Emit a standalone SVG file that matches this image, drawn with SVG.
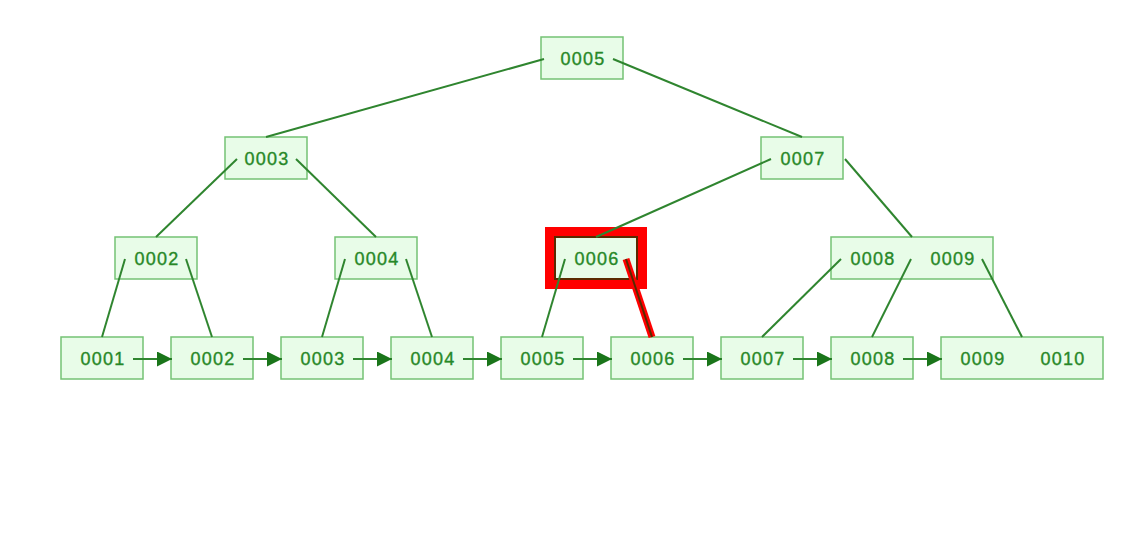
<svg xmlns="http://www.w3.org/2000/svg" width="1146" height="556" viewBox="0 0 1146 556">
<defs>
<style>
.box{fill:#e8fce8;stroke:#74c274;stroke-width:1.5}
.t{font-family:"Liberation Sans",Arial,sans-serif;font-size:18px;letter-spacing:1.2px;fill:#278827;stroke:#278827;stroke-width:0.35;text-anchor:middle;dominant-baseline:central}
.e{stroke:#2f852f;stroke-width:2;fill:none}
.a{stroke:#2f852f;stroke-width:2;fill:none;marker-end:url(#ah)}
</style>
<marker id="ah" viewBox="0 0 10 10" refX="10" refY="5" markerWidth="9" markerHeight="7.5" markerUnits="strokeWidth" orient="auto">
<path d="M0,0 L10,5 L0,10 z" fill="#1a751a"/>
</marker>
</defs>
<rect width="1146" height="556" fill="#fff"/>
<g id="n-root"><rect class="box" x="541" y="37" width="82" height="42"/><text class="t" x="583" y="59">0005</text></g>
<g id="n-0003"><rect class="box" x="225" y="137" width="82" height="42"/><text class="t" x="267" y="159">0003</text></g>
<g id="n-0007"><rect class="box" x="761" y="137" width="82" height="42"/><text class="t" x="803" y="159">0007</text></g>
<g id="n-0002"><rect class="box" x="115" y="237" width="82" height="42"/><text class="t" x="157" y="259">0002</text></g>
<g id="n-0004"><rect class="box" x="335" y="237" width="82" height="42"/><text class="t" x="377" y="259">0004</text></g>
<g id="n-0006"><rect x="545" y="227" width="102" height="62" fill="#ff0000"/><rect x="555" y="237" width="82" height="42" fill="#e8fce8" stroke="#5a2a00" stroke-width="2"/><text class="t" x="597" y="259">0006</text></g>
<g id="n-0008-0009"><rect class="box" x="831" y="237" width="162" height="42"/><text class="t" x="873" y="259">0008</text><text class="t" x="953" y="259">0009</text></g>
<g id="l-0001"><rect class="box" x="61" y="337" width="82" height="42"/><text class="t" x="103" y="359">0001</text></g>
<g id="l-0002"><rect class="box" x="171" y="337" width="82" height="42"/><text class="t" x="213" y="359">0002</text></g>
<g id="l-0003"><rect class="box" x="281" y="337" width="82" height="42"/><text class="t" x="323" y="359">0003</text></g>
<g id="l-0004"><rect class="box" x="391" y="337" width="82" height="42"/><text class="t" x="433" y="359">0004</text></g>
<g id="l-0005"><rect class="box" x="501" y="337" width="82" height="42"/><text class="t" x="543" y="359">0005</text></g>
<g id="l-0006"><rect class="box" x="611" y="337" width="82" height="42"/><text class="t" x="653" y="359">0006</text></g>
<g id="l-0007"><rect class="box" x="721" y="337" width="82" height="42"/><text class="t" x="763" y="359">0007</text></g>
<g id="l-0008"><rect class="box" x="831" y="337" width="82" height="42"/><text class="t" x="873" y="359">0008</text></g>
<g id="l-0009-0010"><rect class="box" x="941" y="337" width="162" height="42"/><text class="t" x="983" y="359">0009</text><text class="t" x="1063" y="359">0010</text></g>
<g id="connectors">
<line class="e" x1="544" y1="59" x2="266" y2="137"/>
<line class="e" x1="613" y1="59" x2="802" y2="137"/>
<line class="e" x1="237" y1="159" x2="156" y2="237"/>
<line class="e" x1="296" y1="159" x2="376" y2="237"/>
<line class="e" x1="771" y1="159" x2="596" y2="237"/>
<line class="e" x1="845" y1="159" x2="912" y2="237"/>
<line class="e" x1="125" y1="259" x2="102" y2="337"/>
<line class="e" x1="186" y1="259" x2="212" y2="337"/>
<line class="e" x1="345" y1="259" x2="322" y2="337"/>
<line class="e" x1="406" y1="259" x2="432" y2="337"/>
<line class="e" x1="565" y1="259" x2="542" y2="337"/>
<line x1="626" y1="259" x2="652" y2="337" stroke="#ff0000" stroke-width="7"/>
<line x1="626" y1="259" x2="652" y2="337" stroke="#5a2a00" stroke-width="2"/>
<line class="e" x1="841" y1="259" x2="762" y2="337"/>
<line class="e" x1="911" y1="259" x2="872" y2="337"/>
<line class="e" x1="982" y1="259" x2="1022" y2="337"/>
<line class="a" x1="133" y1="359" x2="172" y2="359"/>
<line class="a" x1="243" y1="359" x2="282" y2="359"/>
<line class="a" x1="353" y1="359" x2="392" y2="359"/>
<line class="a" x1="463" y1="359" x2="502" y2="359"/>
<line class="a" x1="573" y1="359" x2="612" y2="359"/>
<line class="a" x1="683" y1="359" x2="722" y2="359"/>
<line class="a" x1="793" y1="359" x2="832" y2="359"/>
<line class="a" x1="903" y1="359" x2="942" y2="359"/>
</g>
</svg>
